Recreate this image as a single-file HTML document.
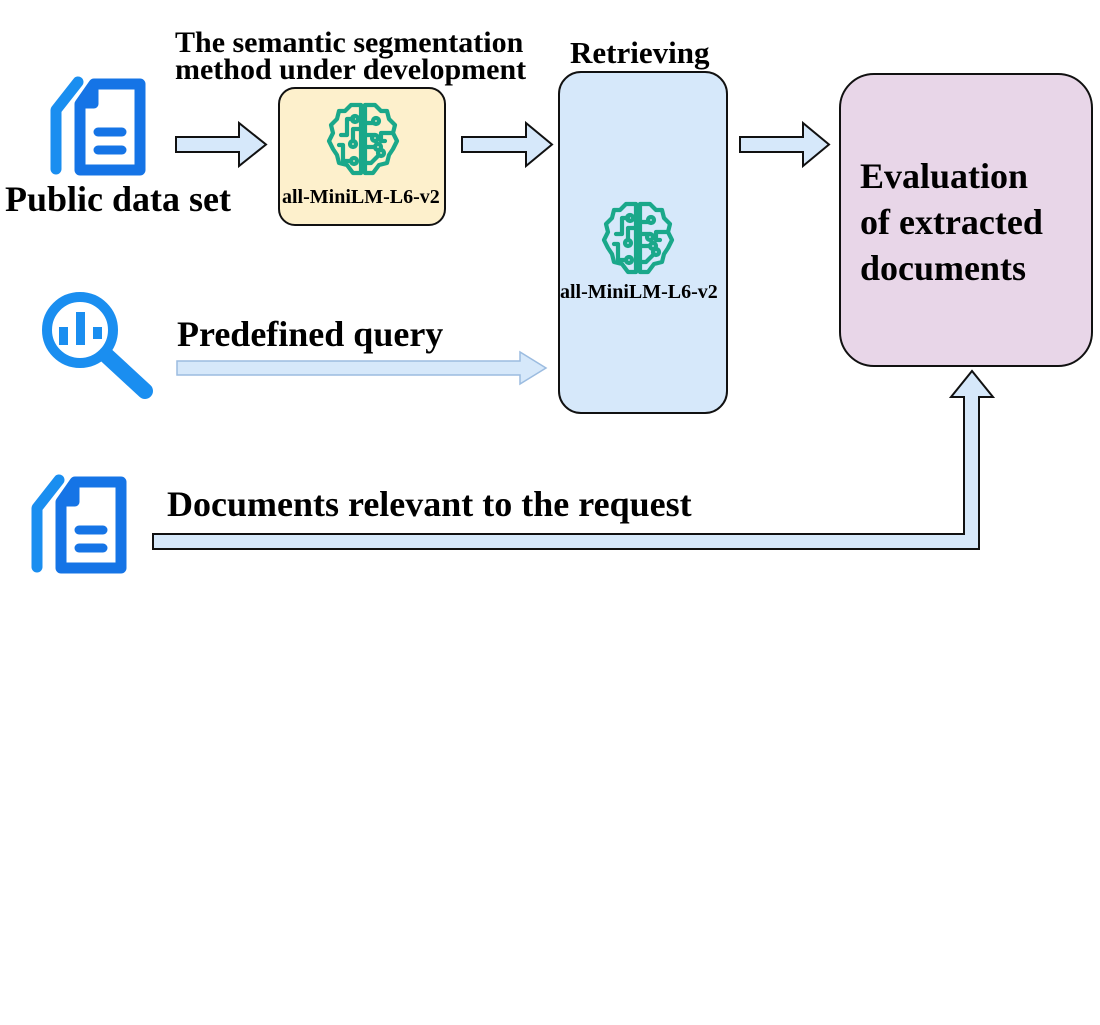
<!DOCTYPE html>
<html><head><meta charset="utf-8"><style>
html,body{margin:0;padding:0;background:#fff;}
body{width:1100px;height:1025px;position:relative;overflow:hidden;font-family:"Liberation Serif",serif;font-weight:bold;color:#000;}
.t{position:absolute;white-space:nowrap;line-height:1;}
svg{position:absolute;left:0;top:0;}
</style></head><body>
<svg width="1100" height="1025" viewBox="0 0 1100 1025">
<defs>
<g id="brain" fill="none" stroke="#1aa88a" stroke-width="4.2" stroke-linejoin="round" stroke-linecap="round">
<path d="M34 4 L24 4 L18 10 L12 10 L10 18 L4 24 L6 32 L2 40 L6 48 L10 54 L12 62 L20 64 L26 72 L34 72 Z"/>
<path d="M38 4 L48 4 L54 10 L60 10 L62 18 L68 24 L66 32 L70 40 L66 48 L62 54 L60 62 L52 64 L46 72 L38 72 Z"/>
<path d="M26 18 L20 18 L20 34 L14 34"/><circle cx="28" cy="18" r="3"/>
<path d="M34 28 L26 28 L26 40"/><circle cx="26" cy="43" r="3"/>
<path d="M12 44 L16 44 L16 60 L24 60"/><circle cx="27" cy="60" r="3"/>
<path d="M38 22 L46 22"/><circle cx="49" cy="20" r="3"/>
<path d="M38 34 L48 34"/><circle cx="48" cy="37" r="3"/>
<path d="M38 46 L48 46"/><circle cx="51" cy="46" r="3"/>
<path d="M38 62 L44 62 L52 54"/><circle cx="54" cy="52" r="3"/>
<path d="M58 40 L54 40 L54 32 L66 32"/>
</g>
<g id="doc">
<path d="M6 95 L6 36 L28 8" fill="none" stroke="#1a8ef0" stroke-width="11" stroke-linecap="round" stroke-linejoin="round"/>
<path d="M30 30 L44 10 L90 10 L90 96 L30 96 Z" fill="none" stroke="#1574e6" stroke-width="11" stroke-linejoin="round"/>
<path d="M44 10 L44 30 L30 30" fill="none" stroke="#1574e6" stroke-width="9" stroke-linejoin="round"/>
<line x1="48" y1="58" x2="72" y2="58" stroke="#1574e6" stroke-width="9" stroke-linecap="round"/>
<line x1="48" y1="76" x2="72" y2="76" stroke="#1574e6" stroke-width="9" stroke-linecap="round"/>
</g>
</defs>

<use href="#doc" transform="translate(50,74)"/>
<use href="#doc" transform="translate(31,472)"/>
<g>
<circle cx="80" cy="330" r="33" fill="none" stroke="#1a8ef0" stroke-width="10"/>
<rect x="59" y="327" width="9" height="18" fill="#1a8ef0"/>
<rect x="76" y="312" width="9" height="33" fill="#1a8ef0"/>
<rect x="93" y="327" width="9" height="12" fill="#1a8ef0"/>
<line x1="106" y1="355" x2="145" y2="391" stroke="#1a8ef0" stroke-width="16" stroke-linecap="round"/>
</g>

<rect x="279" y="88" width="166" height="137" rx="16" fill="#fdf0cc" stroke="#111" stroke-width="2"/>
<rect x="559" y="72" width="168" height="341" rx="22" fill="#d6e8fa" stroke="#111" stroke-width="2"/>
<rect x="840" y="74" width="252" height="292" rx="34" fill="#e8d6e8" stroke="#111" stroke-width="2"/>

<use href="#brain" transform="translate(327,101)"/>
<use href="#brain" transform="translate(602,200)"/>

<g fill="#d6e8fa" stroke="#111" stroke-width="2" stroke-linejoin="miter">
<path d="M176 137 L239 137 L239 123 L266 144.5 L239 166 L239 152 L176 152 Z"/>
<path d="M462 137 L526 137 L526 123 L552 144.5 L526 166 L526 152 L462 152 Z"/>
<path d="M740 137 L803 137 L803 123 L829 144.5 L803 166 L803 152 L740 152 Z"/>
<path d="M153 534 L964 534 L964 397 L951 397 L972 371 L993 397 L979 397 L979 549 L153 549 Z"/>
</g>
<path d="M177 361 L520 361 L520 352 L546 368 L520 384 L520 375 L177 375 Z" fill="#d6e8fa" stroke="#9cbce0" stroke-width="1.5"/>
</svg>

<div class="t" style="left:175px;top:29px;font-size:30px;line-height:27px;">The semantic segmentation<br>method under development</div>
<div class="t" style="left:570px;top:37px;font-size:31px;">Retrieving</div>
<div class="t" style="left:5px;top:181px;font-size:36px;">Public data set</div>
<div class="t" style="left:282px;top:187px;font-size:20px;">all-MiniLM-L6-v2</div>
<div class="t" style="left:560px;top:282px;font-size:20px;">all-MiniLM-L6-v2</div>
<div class="t" style="left:177px;top:316px;font-size:36px;">Predefined query</div>
<div class="t" style="left:167px;top:486px;font-size:36px;">Documents relevant to the request</div>
<div class="t" style="left:860px;top:153px;font-size:36px;line-height:46px;">Evaluation<br>of extracted<br>documents</div>
</body></html>
